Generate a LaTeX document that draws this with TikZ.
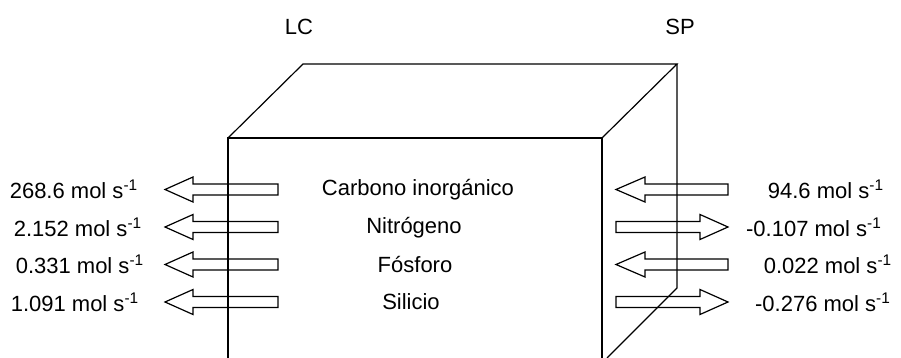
\documentclass[tikz,border=0pt]{standalone}
\usepackage{fontspec}
\setmainfont{Liberation Sans}

\begin{document}
\begin{tikzpicture}[x=0.5pt,y=-0.5pt,line width=0.6pt,
  lbl/.style={font=\fontsize{11}{13}\selectfont,inner sep=0pt},
  flux/.style={draw,line width=0.6pt,line join=miter}]
\useasboundingbox (0,0) rectangle (901,358);
% caja: cara frontal, tapa y arista trasera
\draw (228,358) -- (228,138) -- (602,138) -- (602,358);
\draw (228,138) -- (303,64) -- (677,64) -- (602,138);
\draw (677,64) -- (677,288) -- (607,358);
% rotulos superiores
\node[lbl] (lc) at (299,27) {LC};
\node[lbl] (sp) at (680,27) {SP};
% flechas izquierdas (todas salen hacia la izquierda)
\foreach \cy in {189.5,227,264.5,302}
  \draw[flux] (278,\cy-5.5) -- (193,\cy-5.5) -- (193,\cy-12.5) -- (165,\cy)
    -- (193,\cy+12.5) -- (193,\cy+5.5) -- (278,\cy+5.5) -- cycle;
% flechas derechas: hacia dentro
\foreach \cy in {189.5,264.5}
  \draw[flux] (728,\cy-5.5) -- (645,\cy-5.5) -- (645,\cy-12.5) -- (616,\cy)
    -- (645,\cy+12.5) -- (645,\cy+5.5) -- (728,\cy+5.5) -- cycle;
% flechas derechas: hacia fuera
\foreach \cy in {227,302}
  \draw[flux] (616,\cy-5.5) -- (700,\cy-5.5) -- (700,\cy-12.5) -- (728,\cy)
    -- (700,\cy+12.5) -- (700,\cy+5.5) -- (616,\cy+5.5) -- cycle;
% elementos
\node[lbl] (ci) at (418,190) {Carbono inorgánico};
\node[lbl] (ni) at (414,228) {Nitrógeno};
\node[lbl] (fo) at (415,265) {Fósforo};
\node[lbl] (si) at (411,302) {Silicio};
% flujos en LC
\node[lbl] (lcci) at (74,189) {268.6 mol s\textsuperscript{-1}};
\node[lbl] (lcni) at (78,227) {2.152 mol s\textsuperscript{-1}};
\node[lbl] (lcfo) at (80,264) {0.331 mol s\textsuperscript{-1}};
\node[lbl] (lcsi) at (75,302) {1.091 mol s\textsuperscript{-1}};
% flujos en SP
\node[lbl] (spci) at (826,189) {94.6 mol s\textsuperscript{-1}};
\node[lbl] (spni) at (814,227) {-0.107 mol s\textsuperscript{-1}};
\node[lbl] (spfo) at (828,264) {0.022 mol s\textsuperscript{-1}};
\node[lbl] (spsi) at (823,302) {-0.276 mol s\textsuperscript{-1}};
\end{tikzpicture}
\end{document}
